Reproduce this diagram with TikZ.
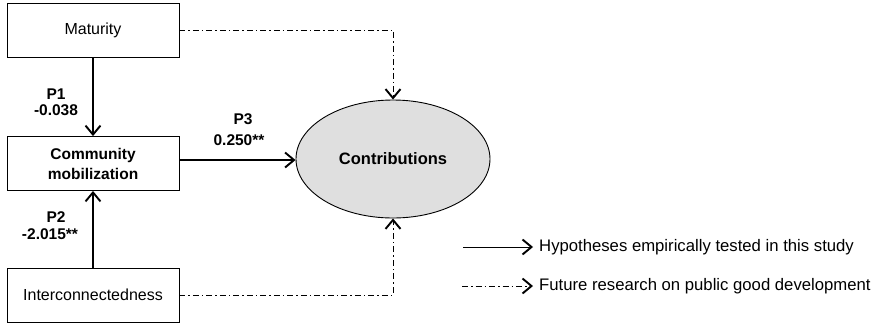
\documentclass[tikz,border=0pt]{standalone}
\usepackage{fontspec}
\setmainfont{Liberation Sans}
\usetikzlibrary{arrows.meta,shapes.geometric}
\begin{document}
\begin{tikzpicture}[x=1pt,y=-1pt,
  box/.style={draw,line width=0.9pt,minimum width=172pt,minimum height=54pt,inner sep=0pt,align=center,font=\fontsize{16}{20}\selectfont},
  oval/.style={ellipse,draw,line width=0.9pt,fill=gray!25,minimum width=194pt,minimum height=118pt,inner sep=0pt,font=\bfseries\fontsize{16.5}{19}\selectfont},
  lbl/.style={font=\bfseries\fontsize{15.5}{18}\selectfont,inner sep=0pt},
  barb/.style={-{Straight Barb[length=9pt,width=15pt,line width=1.9pt]}},
  tested/.style={line width=1.6pt,barb},
  future/.style={line width=1pt,dash pattern=on 6pt off 3pt on 1.5pt off 3pt,barb},
  legtext/.style={anchor=west,inner sep=0pt,font=\fontsize{16.7}{19}\selectfont}]
\useasboundingbox (0,0) rectangle (880,322);
\clip (0,0) rectangle (880,322);

% constructs
\node[box] (mat) at (93,30) {Maturity};
\node[box,font=\bfseries\fontsize{15.5}{20}\selectfont] (mob) at (93,163.5) {Community\\mobilization};
\node[box] (inter) at (93,295) {Interconnectedness};
\node[oval] (con) at (393,159) {Contributions};

% tested paths
\draw[tested] (mat.south) -- (mob.north);
\draw[tested] (inter.north) -- (mob.south);
\draw[tested] (mob.east |- 0,160) -- (con.west |- 0,160);

% path labels
\node[lbl] (p1) at (56,94) {P1};
\node[lbl] (b1) at (56,110) {-0.038};
\node[lbl] (p2) at (56,217) {P2};
\node[lbl] (b2) at (50,234) {-2.015**};
\node[lbl] (p3) at (243,119) {P3};
\node[lbl] (b3) at (239,140) {0.250**};

% future research paths
\coordinate (tr) at (393,30);
\coordinate (br) at (393,295);
\draw[future] (mat.east) -- (tr) -- (con.north);
\draw[future] (inter.east) -- (br) -- (con.south);

% legend
\coordinate (l1a) at (463,247);
\coordinate (l1b) at (533,247);
\coordinate (l2a) at (462,286);
\coordinate (l2b) at (533,286);
\draw[line width=1pt,barb] (l1a) -- (l1b);
\draw[future] (l2a) -- (l2b);
\node[legtext] (t1) at (539,247) {Hypotheses empirically tested in this study};
\node[legtext] (t2) at (539,286) {Future research on public good development};
\end{tikzpicture}
\end{document}
